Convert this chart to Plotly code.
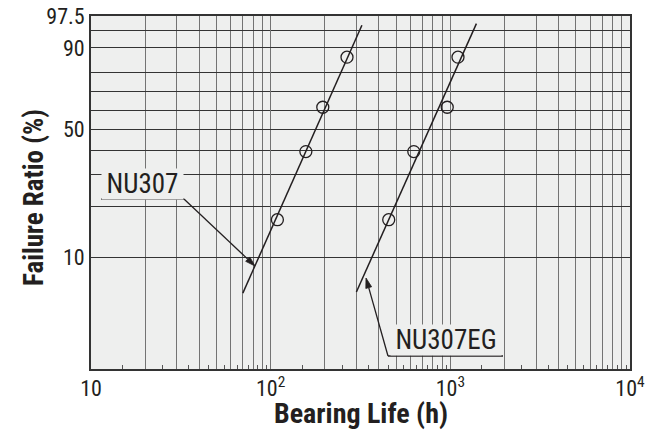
import numpy as np
import plotly.graph_objects as go

# ---------------- data ----------------
failure_ratio_pct = [16.7, 39.3, 61.7, 86.6]          # plotting positions (%)
nu307_life_h = [109, 157, 195, 266]
nu307eg_life_h = [454, 626, 961, 1103]

nu307_fit_life_h = [70, 322]
nu307_fit_ratio_pct = [6.0, 96.0]
nu307eg_fit_life_h = [300, 1397]
nu307eg_fit_ratio_pct = [6.1, 96.3]

y_label_pct = [10, 50, 90, 97.5]
y_label_text = ["10", "50", "90", "97.5"]
y_grid_pct = [20, 30, 40, 60, 70, 80, 95]
y_range_pct = [2.0, 97.5]

x_label_vals = [10, 100, 1000, 10000]
x_label_text = ["10", "10<sup>2</sup>", "10<sup>3</sup>", "10<sup>4</sup>"]
x_grid_vals = [m * 10 ** d for d in (1, 2, 3) for m in range(2, 10)]
x_small_ticks = [m * 10 ** d for d in (1, 2, 3) for m in (1.5, 2.5, 3.5, 4.5, 5.5, 6.5, 7.5, 8.5, 9.5)]

series_names = ["NU307", "NU307EG"]
x_title = "Bearing Life (h)"
y_title = "Failure Ratio (%)"


def weib(p):
    p = np.asarray(p, dtype=float) / 100.0
    return np.log(-np.log(1.0 - p))


# ---------------- styles ----------------
W, H = 645, 437
ML, MR, MT, MB = 91, 15, 16, 68
PW, PH = W - ML - MR, H - MT - MB
INK = "#231f20"
BG = "#eeefee"
VGRID = "#737373"
HGRID = "#333333"
FONT = "Liberation Sans Narrow, Roboto Condensed, DejaVu Sans Condensed, Arial Narrow, sans-serif"


def paper(px, py):
    return (px - ML) / PW, (H - MB - py) / PH


fig = go.Figure()

for lx, ly in ((nu307_fit_life_h, nu307_fit_ratio_pct), (nu307eg_fit_life_h, nu307eg_fit_ratio_pct)):
    fig.add_trace(go.Scatter(x=lx, y=weib(ly), mode="lines",
                             line=dict(color=INK, width=1.5), showlegend=False, hoverinfo="skip"))

for name, life in zip(series_names, (nu307_life_h, nu307eg_life_h)):
    fig.add_trace(go.Scatter(x=life, y=weib(failure_ratio_pct), mode="markers", name=name,
                             marker=dict(symbol="circle-open", size=12, color=INK,
                                         line=dict(width=1.3, color=INK)),
                             showlegend=False))

yr = weib(y_range_pct)
fig.update_layout(
    width=W, height=H,
    margin=dict(l=ML, r=MR, t=MT, b=MB, pad=0, autoexpand=False),
    paper_bgcolor="white", plot_bgcolor=BG,
    font=dict(family=FONT, color=INK, size=22),
    showlegend=False,
    xaxis=dict(type="log", range=[1, 4], tickmode="array", tickvals=x_label_vals,
               ticktext=x_label_text, automargin=False,
               showgrid=True, gridcolor=VGRID, gridwidth=1.4,
               ticks="", showline=True, linecolor="#333333", linewidth=1.8, mirror=True,
               zeroline=False, tickfont=dict(size=22, family=FONT, color=INK),
               ticklabelstandoff=-1, ticklabeloverflow="allow",
               minor=dict(tickmode="array", tickvals=x_grid_vals, ticks="",
                          showgrid=True, gridcolor=VGRID, gridwidth=1.4)),
    xaxis2=dict(type="log", range=[1, 4], overlaying="x", side="bottom", anchor="y",
                tickmode="array", tickvals=x_small_ticks, showticklabels=False,
                ticks="inside", ticklen=4, tickwidth=1, tickcolor="#555555",
                showgrid=False, showline=False, zeroline=False, automargin=False),
    yaxis=dict(range=[yr[0], yr[1]], tickmode="array", tickvals=weib(y_label_pct),
               ticktext=y_label_text, automargin=False,
               showgrid=True, gridcolor=HGRID, gridwidth=1,
               ticks="", showline=True, linecolor="#333333", linewidth=1.8, mirror=True,
               zeroline=False, tickfont=dict(size=22, family=FONT, color=INK),
               ticklabeloverflow="allow",
               minor=dict(tickmode="array", tickvals=weib(y_grid_pct), ticks="",
                          showgrid=True, gridcolor=HGRID, gridwidth=1)),
)

# invisible trace to activate the tick-only second x axis
fig.add_trace(go.Scatter(x=[x_label_vals[0]], y=[weib(y_label_pct[0])], xaxis="x2", mode="markers",
                         marker=dict(opacity=0), showlegend=False, hoverinfo="skip"))

ann = []
shapes = []
# axis titles
tx, ty = paper(361, 414)
ann.append(dict(text="<b>%s</b>" % x_title, x=tx, y=ty, xref="paper", yref="paper",
                xanchor="center", yanchor="middle",
                showarrow=False, font=dict(size=28, family=FONT, color=INK)))
tx, ty = paper(34, 198)
ann.append(dict(text="<b>%s</b>" % y_title, x=tx, y=ty, xref="paper", yref="paper",
                xanchor="center", yanchor="middle",
                showarrow=False, textangle=-90, font=dict(size=27, family=FONT, color=INK)))

# series labels with background boxes + leaders (pixel positions)
labels = [
    # name, text centre, box w/h, underline (x0,x1,y), tail, tip
    (series_names[0], (142.5, 184), (81, 30), (101, 184, 199), (184, 199), (255, 266)),
    (series_names[1], (446, 340), (110, 30), (388, 503, 356), (388, 356), (366, 278)),
]


def ppath(points, close=False):
    s = ""
    for i, (a, b) in enumerate(points):
        x, y = paper(a, b)
        s += ("M" if i == 0 else "L") + "%.5f,%.5f " % (x, y)
    return s + ("Z" if close else "")


for name, (cx, cy), (bw, bh), (ux0, ux1, uy), (tlx, tly), (tpx, tpy) in labels:
    px_, py_ = paper(cx, cy)
    ann.append(dict(text=name, x=px_, y=py_, xref="paper", yref="paper", showarrow=False,
                    xanchor="center", yanchor="middle",
                    width=bw, height=bh, bgcolor=BG, borderpad=0,
                    font=dict(size=27, family=FONT, color=INK)))
    L, hw = 10.0, 3.0
    dx, dy = tpx - tlx, tpy - tly
    n = (dx * dx + dy * dy) ** 0.5
    ux, uy_ = dx / n, dy / n
    bx, by = tpx - ux * L, tpy - uy_ * L
    shapes.append(dict(type="path", xref="paper", yref="paper",
                       path=ppath([(ux0, uy), (ux1, uy)]),
                       line=dict(color=INK, width=1.3), layer="above"))
    shapes.append(dict(type="path", xref="paper", yref="paper",
                       path=ppath([(tlx, tly), (bx, by)]),
                       line=dict(color=INK, width=1.3), layer="above"))
    shapes.append(dict(type="path", xref="paper", yref="paper",
                       path=ppath([(tpx, tpy), (bx - uy_ * hw, by + ux * hw), (bx + uy_ * hw, by - ux * hw)], close=True),
                       fillcolor=INK, line=dict(color=INK, width=0.8), layer="above"))

fig.update_layout(annotations=ann, shapes=shapes)
fig.write_html("out.html", config={"displayModeBar": False},
               post_script="document.body.style.margin='0px';")
